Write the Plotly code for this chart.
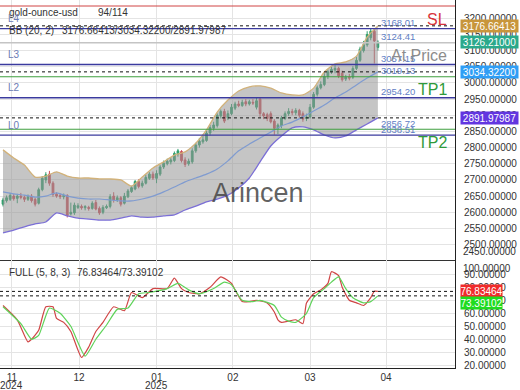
import plotly.graph_objects as go

# ---------------- data ----------------
opens = [2625,2636,2640,2650,2643,2650,2646,2640,2650,2640,
         2628,2670,2700,2718,2690,2656,2652,2648,2652,2595,
         2598,2615,2618,2614,2615,2612,2630,2612,2600,2614,
         2618,2650,2638,2645,2628,2648,2664,2672,2695,2682,
         2690,2705,2718,2705,2718,2740,2750,2756,2760,2780,
         2788,2762,2750,2756,2790,2808,2818,2822,2845,2860,
         2868,2898,2912,2892,2905,2922,2935,2930,2942,2935,
         2940,2925,2950,2905,2902,2905,2882,2860,2868,2890,
         2905,2912,2908,2915,2905,2890,2895,2925,2965,2985,
         2995,3020,3035,3040,3045,3030,3012,3018,3018,3045,
         3070,3100,3118,3140,3160,3110]
highs = [2645,2652,2660,2656,2657,2660,2652,2655,2656,2645,
         2676,2712,2724,2728,2696,2662,2658,2658,2656,2630,
         2630,2628,2624,2622,2620,2634,2638,2618,2622,2624,
         2656,2662,2652,2650,2660,2672,2682,2700,2702,2698,
         2716,2724,2726,2730,2746,2760,2766,2770,2788,2796,
         2792,2770,2766,2798,2815,2830,2836,2852,2870,2880,
         2906,2918,2920,2915,2935,2942,2945,2948,2950,2948,
         2950,2955,2955,2910,2908,2912,2888,2875,2898,2912,
         2922,2920,2922,2920,2912,2905,2935,2972,2992,3005,
         3030,3042,3052,3055,3050,3038,3025,3028,3052,3080,
         3112,3130,3160,3168,3167,3132]
lows = [2618,2630,2635,2636,2628,2640,2632,2635,2630,2618,
        2624,2665,2690,2682,2648,2645,2641,2640,2584,2590,
        2592,2610,2608,2606,2605,2608,2606,2592,2594,2610,
        2612,2630,2632,2618,2624,2644,2660,2668,2674,2676,
        2686,2700,2700,2690,2712,2734,2745,2748,2755,2772,
        2754,2740,2744,2750,2784,2800,2812,2818,2838,2852,
        2862,2890,2876,2885,2900,2916,2925,2926,2928,2930,
        2932,2918,2895,2888,2882,2875,2840,2842,2860,2885,
        2898,2900,2900,2892,2880,2882,2890,2920,2958,2980,
        2990,3012,3028,3030,3015,3004,3006,3008,3012,3040,
        3065,3094,3112,3132,3060,3100]
closes = [2638,2645,2652,2642,2650,2646,2640,2648,2636,2625,
          2670,2705,2716,2690,2655,2650,2648,2652,2590,2600,
          2622,2620,2614,2618,2612,2628,2610,2598,2615,2618,
          2648,2638,2645,2625,2650,2666,2676,2695,2680,2690,
          2708,2718,2706,2720,2740,2752,2758,2762,2782,2790,
          2760,2748,2758,2790,2808,2820,2824,2845,2862,2870,
          2900,2912,2882,2905,2925,2935,2930,2940,2935,2942,
          2938,2945,2905,2898,2890,2880,2860,2870,2892,2905,
          2912,2908,2915,2900,2888,2895,2925,2965,2985,2995,
          3020,3035,3042,3045,3022,3010,3018,3015,3045,3070,
          3105,3118,3150,3160,3130,3126.21]

# Bollinger bands sampled every 3rd candle
bb_idx = list(range(0, 106, 3))
bb_upper = [2793,2768,2746,2709,2712,2725,2712,2706,2706,2703,2703,2700,2681,2709,2737,2756,2777,2787,
            2814,2855,2910,2947,2975,2988,2991,2984,2969,2963,2963,2984,3034,3059,3065,3083,3142,3176.66]
bb_mid = [2663,2657,2653,2647,2650,2660,2650,2644,2641,2641,2638,2635,2635,2641,2650,2663,2678,2694,
          2706,2718,2734,2759,2790,2811,2830,2848,2867,2879,2895,2913,2932,2954,2972,2994,3015,3034.32]
bb_lower = [2536,2545,2555,2564,2570,2598,2589,2582,2579,2576,2576,2582,2589,2585,2585,2589,2592,2607,
            2619,2632,2641,2653,2675,2706,2756,2805,2836,2861,2864,2855,2839,2830,2836,2855,2873,2891.98]

# Stochastic
k_idx = [0,4,7,8,10,12,14,15,17,19,22,24,26,28,31,34,36,39,42,46,48,50,52,55,58,61,64,65,67,69,71,
         74,76,77,78,80,82,84,85,87,89,91,92,94,95,97,99,101,103,104,105]
k_val = [66,55,38,40,47,65,65,56,53,46,26,34,46,53,65,62,76,72,79,79,87,79,76,75,80,88,83,78,69,69,70,
         68,61,55,53,54,55,52,68,75,78,83,92,89,80,70,68,66,72,77,76.83]
d_idx = [0,5,8,10,13,16,19,23,26,29,32,35,38,41,46,49,52,55,59,62,64,67,70,72,76,78,80,82,85,87,90,
         92,94,96,98,101,103,105]
d_val = [65,52,40,43,64,60,50,27,40,51,63,64,75,76,79,83,78,75,79,84,82,70,69,70,66,57,54,53,60,72,79,
         84,88,79,72,68,69,73.39]

# Levels
sl_level = 3238
l_levels = {"L4": 3168.01, "L3": 3057.15, "L2": 2954.20, "L0": 2838.51}
tp_levels = {"TP1": 3019.13, "TP2": 2856.72}
at_price = 3124.41
bb_last = [3176.66413, 3034.32200, 2891.97987]
last_close = 3126.21
k_last, d_last = 76.83464, 73.39102
price_labels = [3168.01, 3124.41, 3057.15, 3019.13, 2954.20, 2856.72, 2838.51]

month_idx = [2.5, 21.3, 43.1, 64.4, 86.0, 107.3]
month_labels = ["11", "12", "01", "02", "03", "04"]
year_labels = [(2.5, "2024"), (43.1, "2025")]
main_ticks = list(range(2500, 3201, 50))
stoch_ticks = list(range(20, 91, 10))

FONT = "Liberation Sans, Arial, sans-serif"
idx = list(range(len(closes)))

fig = go.Figure()
# Bollinger fill
fig.add_trace(go.Scatter(x=bb_idx, y=bb_lower, mode="lines", hoverinfo="skip",
                         line=dict(color="#7b6fd6", width=1.3, shape="spline", smoothing=0.6)))
fig.add_trace(go.Scatter(x=bb_idx, y=bb_upper, mode="lines", fill="tonexty", hoverinfo="skip",
                         fillcolor="rgba(150,150,150,0.55)",
                         line=dict(color="#d2b27a", width=1.3, shape="spline", smoothing=0.6)))
fig.add_trace(go.Scatter(x=bb_idx, y=bb_mid, mode="lines", hoverinfo="skip",
                         line=dict(color="#7f9bd0", width=1.2, shape="spline", smoothing=0.6)))
fig.add_trace(go.Candlestick(x=idx, open=opens, high=highs, low=lows, close=closes,
                             whiskerwidth=0,
                             increasing=dict(line=dict(color="#2e9e6b", width=1), fillcolor="#2e9e6b"),
                             decreasing=dict(line=dict(color="#cc4b55", width=1), fillcolor="#cc4b55")))
# Stochastic
fig.add_trace(go.Scatter(x=k_idx, y=k_val, mode="lines", xaxis="x2", yaxis="y2",
                         line=dict(color="#d04545", width=1.2, shape="spline", smoothing=0.5)))
fig.add_trace(go.Scatter(x=d_idx, y=d_val, mode="lines", xaxis="x2", yaxis="y2",
                         line=dict(color="#5fd35a", width=1.2, shape="spline", smoothing=0.5)))

shapes = []
def hline(y, color, width=1, dash="solid", yref="y", xref="x domain"):
    shapes.append(dict(type="line", xref=xref, yref=yref, x0=0, x1=1, y0=y, y1=y,
                       line=dict(color=color, width=width, dash=dash), layer="above"))

hline(sl_level, "#d04545", 1)
hline(at_price, "#c4c4c4", 1.5)
for v in l_levels.values():
    hline(v, "#3b3b9e", 1.3)
for v in tp_levels.values():
    hline(v, "#3f9f3f", 1.1)
for v in bb_last:
    hline(v, "#111111", 1, "3px,3px")
hline(k_last, "#111111", 1, "3px,3px", yref="y2", xref="x2 domain")
hline(d_last, "#111111", 1, "3px,3px", yref="y2", xref="x2 domain")

ann = []
def txt(text, x, y, xref, yref, size=10, color="#333", xanchor="left", yanchor="middle",
        xshift=0, yshift=0, **kw):
    ann.append(dict(text=text, x=x, y=y, xref=xref, yref=yref, showarrow=False,
                    font=dict(size=size, color=color, family=FONT), xanchor=xanchor,
                    yanchor=yanchor, xshift=xshift, yshift=yshift, **kw))

# headers
txt("gold-ounce-usd", 0, 1, "x domain", "y domain", xshift=7, yshift=-12)
txt("94/114", 0, 1, "x domain", "y domain", xshift=96, yshift=-12)
txt("BB (20, 2)", 0, 1, "x domain", "y domain", xshift=7, yshift=-30)
txt("/".join(f"{v:.5f}" for v in bb_last), 0, 1, "x domain", "y domain", xshift=60, yshift=-30)
txt("FULL (5, 8, 3)", 0, 1, "x2 domain", "y2 domain", xshift=7, yshift=-13)
txt(f"{k_last:.5f}/{d_last:.5f}", 0, 1, "x2 domain", "y2 domain", xshift=75, yshift=-13)

# level names
for name, v in l_levels.items():
    txt(name, 0, v, "x domain", "y", color="#6b7bb5", xshift=6, yshift=10)
for v in price_labels:
    txt(f"{v:.2f}", 0.834, v, "x domain", "y", size=9.5, color="#5f80c4", yshift=6)
txt("SL", 1, sl_level, "x domain", "y", size=16, color="#d8323a", xanchor="right", xshift=-6, yshift=-13)
txt("At Price", 1, at_price, "x domain", "y", size=16, color="#8c8c8c", xanchor="right", xshift=-6, yshift=-13)
for name, v in tp_levels.items():
    txt(name, 1, v, "x domain", "y", size=16, color="#2e9a3a", xanchor="right", xshift=-6, yshift=-13)

# watermark
txt("Arincen", 0.567, 0.258, "x domain", "y domain", size=27, color="rgba(70,70,70,0.85)", xanchor="center")

# clamped axis labels
txt("2450.00000", 1, 0, "paper", "y domain", yanchor="bottom", xshift=6, yshift=1)
txt("100.00000", 1, 1, "paper", "y2 domain", yanchor="top", xshift=6, yshift=-1)

# value boxes on the right axis
def box(v, yref, bg, w, yshift=0):
    text = f"{v:.5f}"
    ann.append(dict(text=text, x=1, y=v, xref="paper", yref=yref, showarrow=False,
                    xanchor="left", yanchor="middle", xshift=5, yshift=yshift,
                    bgcolor=bg, borderpad=0, width=w, height=12,
                    font=dict(size=10, color="white", family=FONT)))

box(bb_last[0], "y", "#c8963c", 57)
box(last_close, "y", "#2aa98b", 57)
box(bb_last[1], "y", "#2f9ef5", 57)
box(bb_last[2], "y", "#6236e0", 57)
box(k_last, "y2", "#f02b2b", 41)
box(d_last, "y2", "#1fdc1f", 41, yshift=-7)

# year labels
for xv, lab in year_labels:
    txt(lab, xv, 0, "x2", "paper", xanchor="center", yanchor="middle", yshift=-17)

grid = "#e4e4e4"
fig.update_layout(
    width=520, height=390, margin=dict(l=0, r=65, t=0, b=22),
    paper_bgcolor="white", plot_bgcolor="white", showlegend=False,
    font=dict(family=FONT, size=10, color="#333"),
    shapes=shapes, annotations=ann,
    xaxis=dict(domain=[0, 1], range=[-0.84, 126.6], anchor="y", tickvals=month_idx,
               showticklabels=False, showgrid=True, gridcolor=grid, zeroline=False,
               showline=True, linecolor="#333", linewidth=1, ticks="",
               rangeslider=dict(visible=False)),
    yaxis=dict(domain=[0.2935, 1], range=[2452.4, 3256.6], side="right", anchor="x",
               tickvals=main_ticks, ticktext=[f"{v:.5f}" for v in main_ticks],
               showgrid=True, gridcolor=grid, zeroline=False, showline=True,
               linecolor="#222", linewidth=1, ticks="outside", ticklen=6,
               tickcolor="rgba(0,0,0,0)", tickfont=dict(size=10, color="#333")),
    xaxis2=dict(domain=[0, 1], matches="x", anchor="y2", tickvals=month_idx,
                ticktext=month_labels, showgrid=True, gridcolor=grid, zeroline=False,
                showline=True, linecolor="#222", linewidth=1, ticks="",
                tickfont=dict(size=10, color="#333")),
    yaxis2=dict(domain=[0, 0.2935], range=[17.9, 101], side="right", anchor="x2",
                tickvals=stoch_ticks, ticktext=[f"{v:.5f}" for v in stoch_ticks],
                showgrid=True, gridcolor=grid, zeroline=False, showline=True,
                linecolor="#222", linewidth=1, ticks="outside", ticklen=6,
                tickcolor="rgba(0,0,0,0)", tickfont=dict(size=10, color="#333")),
)

fig.write_html("out.html")
